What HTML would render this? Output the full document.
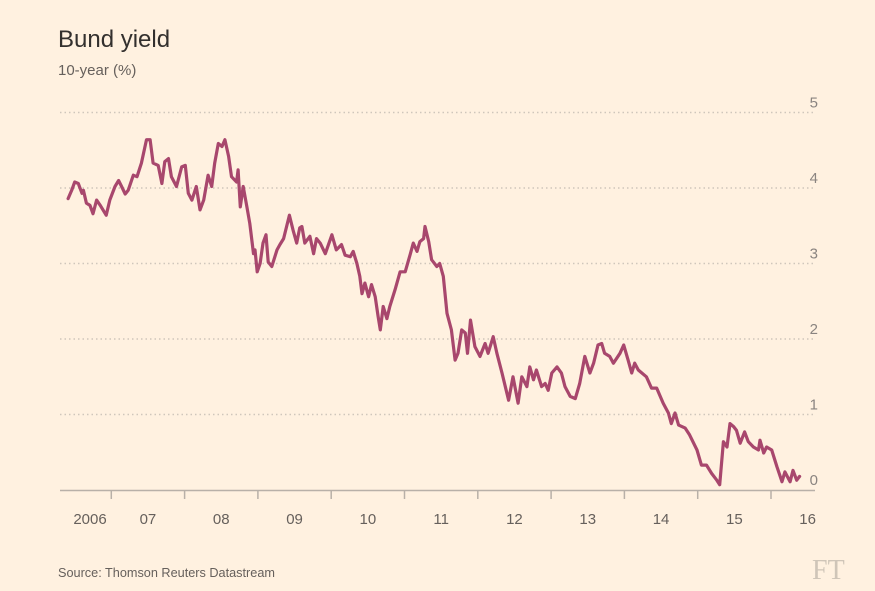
<!DOCTYPE html>
<html><head><meta charset="utf-8">
<style>
html,body{margin:0;padding:0;background:#FFF1E0;}
body{width:875px;height:586px;overflow:hidden;font-family:"Liberation Sans",sans-serif;}
</style></head>
<body>
<svg id="chart" width="875" height="586" viewBox="0 0 875 586">
<rect width="875" height="586" fill="#FFF1E0"/>
<text x="58" y="47" font-size="24" fill="#33302e">Bund yield</text>
<text x="58" y="75" font-size="15" fill="#66605c">10-year (%)</text>
<text x="58" y="577" font-size="12.7" fill="#66605c">Source: Thomson Reuters Datastream</text>
<text x="812" y="579" font-size="28" fill="#cfc5b8" font-family="'Liberation Serif',serif">FT</text>
<g id="grid"></g><g id="axis"></g><g id="series"></g>
</svg>
<script>
const yTicks=[0,1,2,3,4,5];
const xYears=[2007,2008,2009,2010,2011,2012,2013,2014,2015,2016];
const xLabels=["2006","07","08","09","10","11","12","13","14","15","16"];
const dates=[2006.41,2006.46,2006.50,2006.55,2006.60,2006.62,2006.66,2006.71,2006.75,2006.80,2006.85,2006.93,2006.98,2007.05,2007.10,2007.14,2007.19,2007.23,2007.30,2007.35,2007.41,2007.48,2007.53,2007.57,2007.64,2007.69,2007.73,2007.78,2007.82,2007.89,2007.96,2008.01,2008.05,2008.10,2008.16,2008.21,2008.26,2008.32,2008.37,2008.41,2008.46,2008.51,2008.55,2008.60,2008.64,2008.71,2008.73,2008.76,2008.80,2008.85,2008.89,2008.94,2008.96,2008.99,2009.03,2009.07,2009.11,2009.14,2009.19,2009.26,2009.30,2009.35,2009.43,2009.48,2009.53,2009.57,2009.60,2009.64,2009.71,2009.76,2009.80,2009.85,2009.92,2010.01,2010.07,2010.14,2010.19,2010.26,2010.30,2010.35,2010.39,2010.42,2010.46,2010.51,2010.55,2010.60,2010.64,2010.67,2010.71,2010.76,2010.80,2010.87,2010.94,2011.01,2011.08,2011.12,2011.17,2011.21,2011.26,2011.28,2011.33,2011.37,2011.44,2011.48,2011.53,2011.58,2011.64,2011.69,2011.73,2011.78,2011.83,2011.86,2011.90,2011.96,2012.03,2012.10,2012.14,2012.21,2012.26,2012.33,2012.42,2012.48,2012.55,2012.60,2012.67,2012.71,2012.76,2012.80,2012.87,2012.92,2012.96,2013.01,2013.08,2013.14,2013.19,2013.26,2013.33,2013.39,2013.46,2013.53,2013.58,2013.64,2013.69,2013.73,2013.80,2013.85,2013.94,2013.99,2014.05,2014.10,2014.14,2014.19,2014.30,2014.37,2014.44,2014.53,2014.60,2014.64,2014.69,2014.74,2014.83,2014.89,2014.99,2015.05,2015.12,2015.19,2015.26,2015.30,2015.35,2015.40,2015.44,2015.49,2015.53,2015.58,2015.64,2015.69,2015.76,2015.83,2015.85,2015.90,2015.94,2016.01,2016.08,2016.15,2016.19,2016.26,2016.30,2016.35,2016.39];
const yields=[3.86,3.97,4.08,4.06,3.93,3.97,3.80,3.77,3.66,3.84,3.77,3.64,3.84,4.02,4.10,4.02,3.92,3.97,4.17,4.15,4.33,4.64,4.64,4.33,4.30,4.06,4.35,4.39,4.15,4.02,4.28,4.30,3.93,3.84,4.02,3.71,3.84,4.17,4.02,4.33,4.59,4.55,4.64,4.42,4.15,4.08,4.24,3.75,4.02,3.75,3.53,3.13,3.18,2.89,3.00,3.27,3.38,3.02,2.96,3.18,3.25,3.33,3.64,3.44,3.27,3.47,3.49,3.27,3.36,3.13,3.33,3.27,3.13,3.38,3.18,3.25,3.11,3.09,3.16,3.00,2.83,2.60,2.74,2.56,2.72,2.56,2.30,2.12,2.43,2.27,2.43,2.65,2.89,2.89,3.13,3.27,3.16,3.29,3.33,3.49,3.29,3.05,2.96,3.00,2.83,2.34,2.12,1.72,1.81,2.12,2.08,1.81,2.25,1.90,1.77,1.94,1.81,2.03,1.81,1.55,1.19,1.50,1.15,1.50,1.37,1.63,1.46,1.59,1.37,1.41,1.32,1.55,1.63,1.55,1.37,1.24,1.21,1.41,1.77,1.55,1.68,1.92,1.94,1.81,1.77,1.68,1.81,1.92,1.72,1.55,1.68,1.59,1.50,1.35,1.35,1.15,1.02,0.88,1.02,0.86,0.82,0.73,0.53,0.33,0.33,0.22,0.13,0.07,0.64,0.57,0.88,0.84,0.79,0.62,0.77,0.64,0.57,0.53,0.66,0.49,0.57,0.53,0.31,0.11,0.24,0.11,0.26,0.13,0.18];

const NS="http://www.w3.org/2000/svg";
const x0=60,x1=815;
function xScale(yr){return 38+(yr-2006)*73.3;}
function yScale(v){return 490-v*75.5;}
function mk(tag,attrs,parent){const e=document.createElementNS(NS,tag);for(const k in attrs)e.setAttribute(k,attrs[k]);parent.appendChild(e);return e;}
const grid=document.getElementById('grid'),axis=document.getElementById('axis'),series=document.getElementById('series');
yTicks.forEach(v=>{
  if(v>0){
    const l=mk('line',{x1:x0,x2:x1,y1:yScale(v),y2:yScale(v),stroke:'#cfc6bb','stroke-width':1.5,'stroke-dasharray':'1.5,3'},grid);
    
    
  }
  const t=mk('text',{x:818,y:yScale(v)-5,'font-size':15,fill:'#8a8480','text-anchor':'end'},axis);
  t.textContent=String(v);
  
  
});
const base=mk('line',{x1:x0,x2:x1,y1:490.5,y2:490.5,stroke:'#b8b0a8','stroke-width':1.5},axis);


xYears.forEach(yr=>{
  const tk=mk('line',{x1:xScale(yr),x2:xScale(yr),y1:490,y2:499,stroke:'#b8b0a8','stroke-width':1.5},axis);
  
  
});
xLabels.forEach((lab,i)=>{
  let cx=xScale(2006+i+0.5);
  if(i===0)cx=90;
  const t=mk('text',{x:cx,y:524,'font-size':15,fill:'#66605c','text-anchor':'middle'},axis);
  t.textContent=lab;
  
  
});
const d=dates.map((yr,i)=>(i?'L':'M')+xScale(yr).toFixed(1)+','+yScale(yields[i]).toFixed(1)).join(' ');
const p=mk('path',{d:d,fill:'none',stroke:'#a8476d','stroke-width':3.2,'stroke-linejoin':'round','stroke-linecap':'round'},series);


</script>
</body></html>
